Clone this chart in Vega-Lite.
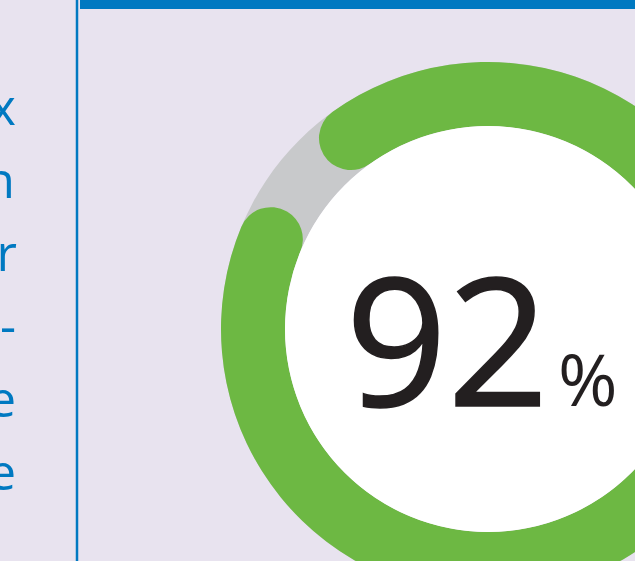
{
  "$schema": "https://vega.github.io/schema/vega-lite/v6.json",
  "width": 635,
  "height": 561,
  "padding": 0,
  "autosize": {"type": "none"},
  "background": "#E8E3EF",
  "config": {"view": {"stroke": null}},
  "layer": [
    {
      "data": {"values": [{"x": 80, "x2": 635, "y": 0, "y2": 9}]},
      "mark": {"type": "rect", "color": "#0079C1"},
      "encoding": {
        "x": {"field": "x", "type": "quantitative", "scale": {"domain": [0, 635], "nice": false, "zero": false}, "axis": null},
        "x2": {"field": "x2"},
        "y": {"field": "y", "type": "quantitative", "scale": {"domain": [0, 561], "nice": false, "zero": false, "reverse": true}, "axis": null},
        "y2": {"field": "y2"}
      }
    },
    {
      "data": {"values": [{"x": 77, "y": 0, "y2": 561}]},
      "mark": {"type": "rule", "color": "#0079C1", "strokeWidth": 2.5},
      "encoding": {
        "x": {"field": "x", "type": "quantitative"},
        "y": {"field": "y", "type": "quantitative"},
        "y2": {"field": "y2"}
      }
    },
    {
      "data": {"values": [{"cx": 488, "cy": 329, "a": 0, "b": 360}]},
      "mark": {"type": "arc", "color": "#C8C9CB", "radius": 267, "radius2": 203},
      "encoding": {
        "x": {"field": "cx", "type": "quantitative"},
        "y": {"field": "cy", "type": "quantitative"},
        "theta": {"field": "a", "type": "quantitative", "scale": {"domain": [0, 360], "range": [0, 6.283185307], "nice": false, "zero": false}},
        "theta2": {"field": "b"}
      }
    },
    {
      "data": {"values": [{"cx": 488, "cy": 329, "a": -43.5, "b": 300.3}]},
      "mark": {"type": "arc", "color": "#6DB843", "radius": 267, "radius2": 203, "cornerRadius": 32},
      "encoding": {
        "x": {"field": "cx", "type": "quantitative"},
        "y": {"field": "cy", "type": "quantitative"},
        "theta": {"field": "a", "type": "quantitative"},
        "theta2": {"field": "b"}
      }
    },
    {
      "data": {"values": [{"cx": 488, "cy": 329, "a": 0, "b": 360}]},
      "mark": {"type": "arc", "color": "#FFFFFF", "radius": 203, "radius2": 0},
      "encoding": {
        "x": {"field": "cx", "type": "quantitative"},
        "y": {"field": "cy", "type": "quantitative"},
        "theta": {"field": "a", "type": "quantitative"},
        "theta2": {"field": "b"}
      }
    },
    {
      "data": {"values": [{"t": "92", "x": 549, "y": 406}]},
      "mark": {"type": "text", "align": "right", "baseline": "alphabetic", "font": "Open Sans", "fontSize": 178, "color": "#231F20", "stroke": "#231F20", "strokeWidth": 1.5},
      "encoding": {
        "x": {"field": "x", "type": "quantitative"},
        "y": {"field": "y", "type": "quantitative"},
        "text": {"field": "t"}
      }
    },
    {
      "data": {"values": [{"t": "%", "x": 558, "y": 406}]},
      "mark": {"type": "text", "align": "left", "baseline": "alphabetic", "font": "Open Sans", "fontSize": 72, "color": "#231F20"},
      "encoding": {
        "x": {"field": "x", "type": "quantitative"},
        "y": {"field": "y", "type": "quantitative"},
        "text": {"field": "t"}
      }
    },
    {
      "data": {"values": [
        {"t": "x", "x": 16, "y": 125},
        {"t": "n", "x": 15, "y": 198},
        {"t": "r", "x": 17, "y": 271},
        {"t": "-", "x": 16, "y": 344},
        {"t": "e", "x": 16, "y": 417},
        {"t": "e", "x": 16, "y": 490}
      ]},
      "mark": {"type": "text", "align": "right", "baseline": "alphabetic", "font": "Open Sans", "fontSize": 50, "color": "#0079C1"},
      "encoding": {
        "x": {"field": "x", "type": "quantitative"},
        "y": {"field": "y", "type": "quantitative"},
        "text": {"field": "t"}
      }
    }
  ]
}
